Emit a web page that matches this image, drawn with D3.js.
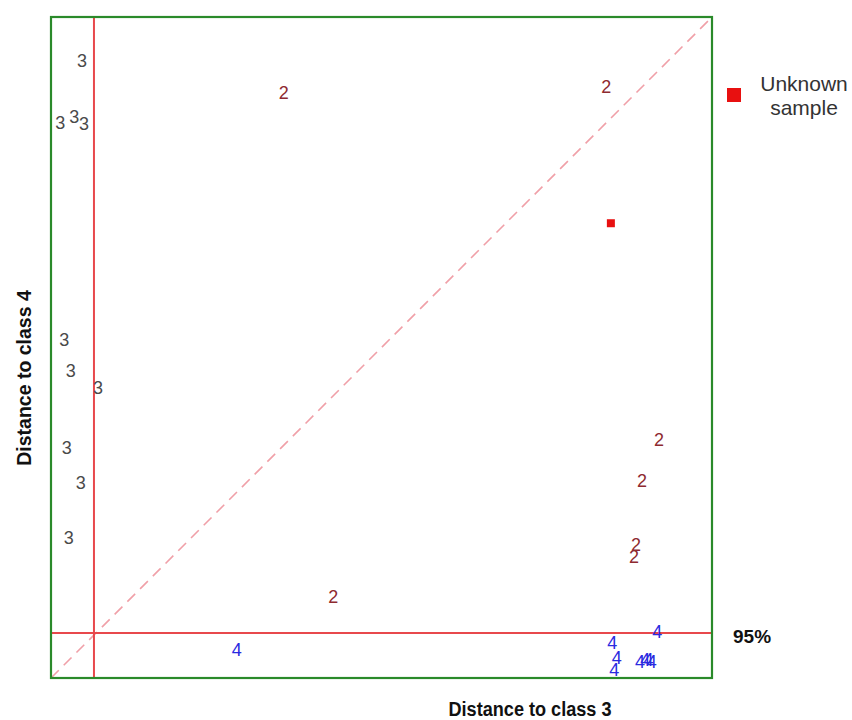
<!DOCTYPE html>
<html><head><meta charset="utf-8">
<script src="https://cdn.jsdelivr.net/npm/d3@7"></script>
<style>body{margin:0;background:#fff}svg{display:block}</style>
</head><body>
<script>
// Data (distance units, domain 0..10 on both axes)
const class3X = [0.47, 0.14, 0.35, 0.50, 0.20, 0.30, 0.71, 0.24, 0.45, 0.27];
const class3Y = [9.33, 8.40, 8.49, 8.38, 5.11, 4.64, 4.39, 3.48, 2.95, 2.12];
const class2X = [3.52, 8.40, 9.20, 8.94, 8.85, 8.82, 4.27];
const class2Y = [8.85, 8.94, 3.60, 2.98, 2.01, 1.83, 1.23];
const class4X = [2.81, 9.17, 8.49, 8.56, 8.52, 8.91, 8.99, 9.04, 9.09];
const class4Y = [0.42, 0.70, 0.53, 0.30, 0.12, 0.24, 0.27, 0.27, 0.24];
const unknownX = [8.47];
const unknownY = [6.88];
const critX = 0.65, critY = 0.68;
const critLabel = "95%";
const xTitle = "Distance to class 3", yTitle = "Distance to class 4";
const legendLabel = ["Unknown", "sample"];

const W = 852, H = 720;
const L = 51, R = 712, T = 17, B = 678;
const FONT = "Liberation Sans, Arial, sans-serif";
const svg = d3.select("body").append("svg").attr("width", W).attr("height", H);
const x = d3.scaleLinear().domain([0, 10]).range([L, R]);
const y = d3.scaleLinear().domain([0, 10]).range([B, T]);

// diagonal
svg.append("line").attr("x1", x(0)).attr("y1", y(0)).attr("x2", x(10)).attr("y2", y(10))
  .attr("stroke", "#f0a0a8").attr("stroke-width", 1.6).attr("stroke-dasharray", "11,7");
// critical lines
svg.append("line").attr("x1", x(critX)).attr("x2", x(critX)).attr("y1", y(0)).attr("y2", y(10))
  .attr("stroke", "#e8484c").attr("stroke-width", 2);
svg.append("line").attr("x1", x(0)).attr("x2", x(10)).attr("y1", y(critY)).attr("y2", y(critY))
  .attr("stroke", "#e8484c").attr("stroke-width", 2);
// frame
svg.append("rect").attr("x", L).attr("y", T).attr("width", R - L).attr("height", B - T)
  .attr("fill", "none").attr("stroke", "#2a8a2a").attr("stroke-width", 2.2);

function labels(xs, ys, txt, col) {
  svg.append("g").selectAll("text").data(xs).join("text")
    .attr("x", d => x(d)).attr("y", (d, i) => y(ys[i]))
    .attr("text-anchor", "middle").attr("dominant-baseline", "central")
    .attr("font-family", FONT).attr("font-size", 18)
    .attr("fill", col).text(txt);
}
labels(class3X, class3Y, "3", "#4a4a4a");
labels(class2X, class2Y, "2", "#8e2a30");
labels(class4X, class4Y, "4", "#2a2ae0");

svg.append("g").selectAll("rect").data(unknownX).join("rect")
  .attr("x", d => x(d) - 4).attr("y", (d, i) => y(unknownY[i]) - 4)
  .attr("width", 8).attr("height", 8).attr("fill", "#e81010");

// legend
svg.append("rect").attr("x", 727).attr("y", 88).attr("width", 14).attr("height", 14).attr("fill", "#e81010");
svg.append("g").selectAll("text").data(legendLabel).join("text")
  .attr("x", 804).attr("y", (d, i) => 91 + i * 24)
  .attr("text-anchor", "middle")
  .attr("font-family", FONT).attr("font-size", 21)
  .attr("fill", "#333").text(d => d);

svg.append("text").attr("x", 733).attr("y", 643)
  .attr("font-family", FONT).attr("font-size", 19).attr("font-weight", "bold")
  .attr("fill", "#111").text(critLabel);

svg.append("text").attr("x", 530).attr("y", 716).attr("text-anchor", "middle")
  .attr("font-family", FONT).attr("font-size", 19.5).attr("font-weight", "bold")
  .attr("textLength", 163).attr("lengthAdjust", "spacingAndGlyphs")
  .attr("fill", "#111").text(xTitle);
svg.append("text").attr("transform", "translate(31,378) rotate(-90)").attr("text-anchor", "middle")
  .attr("font-family", FONT).attr("font-size", 19.5).attr("font-weight", "bold")
  .attr("fill", "#111").text(yTitle);
</script>
</body></html>
